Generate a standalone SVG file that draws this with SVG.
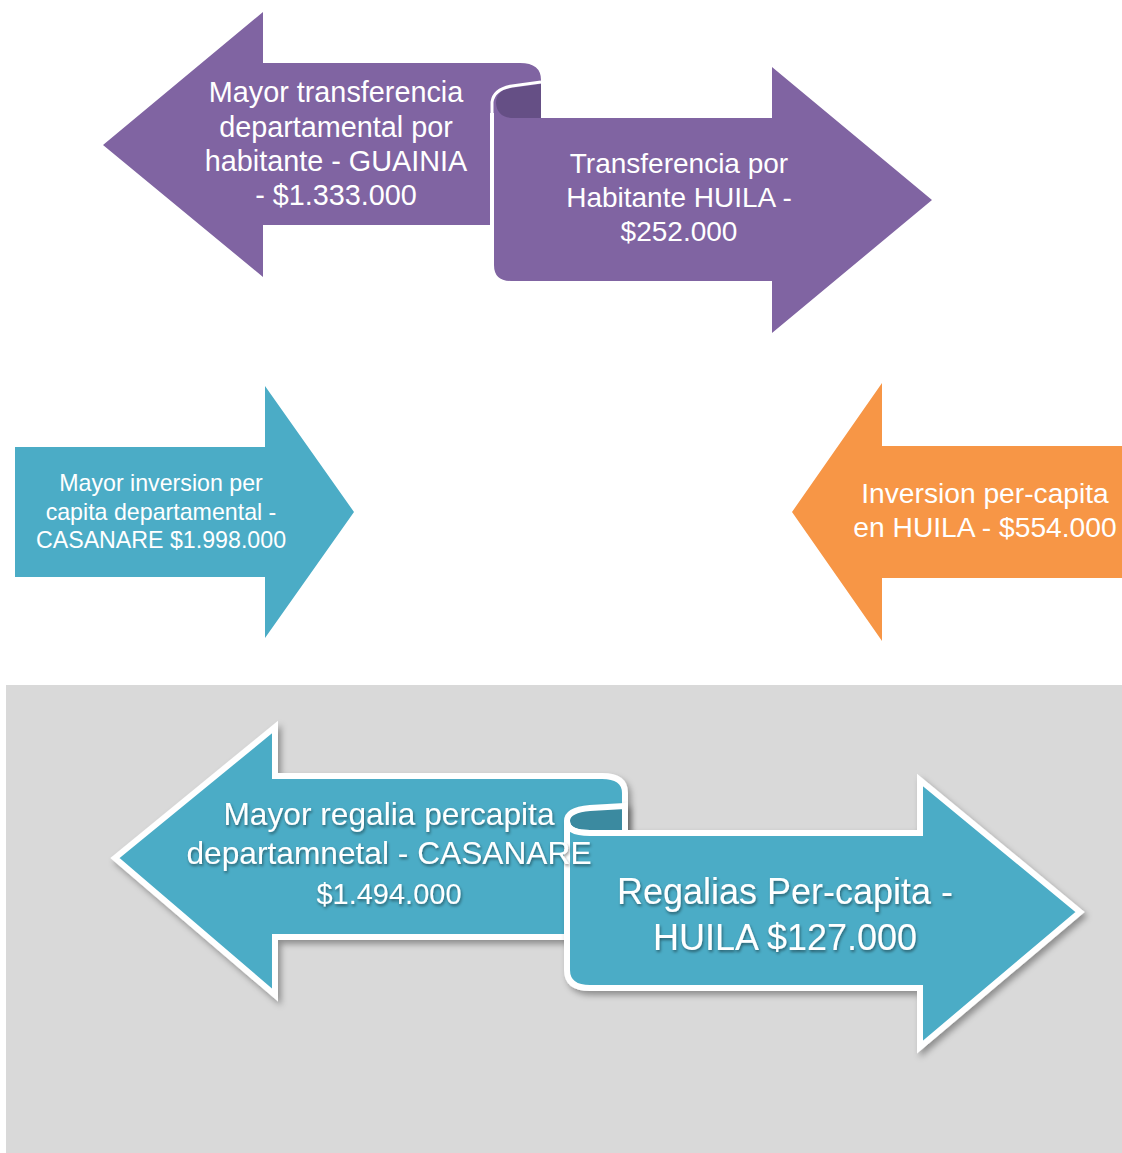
<svg xmlns="http://www.w3.org/2000/svg" width="1122" height="1153" viewBox="0 0 1122 1153">
<style>
.t{font-family:"Liberation Sans","Open Sans",sans-serif;fill:#fff;text-anchor:middle}
.purple{fill:#8064A2}
.pdark{fill:#654F85}
.teal{fill:#4BACC6}
.tdark{fill:#3A8AA0}
.orange{fill:#F79646}
.ws{stroke:#fff;stroke-width:6;stroke-linejoin:miter}
</style>
<defs>
<filter id="sh" x="-10%" y="-10%" width="130%" height="130%">
<feDropShadow dx="3" dy="4" stdDeviation="3" flood-color="#000" flood-opacity="0.35"/>
</filter>
<filter id="tsh" x="-5%" y="-20%" width="110%" height="150%">
<feDropShadow dx="1" dy="2" stdDeviation="1.5" flood-color="#000" flood-opacity="0.45"/>
</filter>
</defs>
<rect x="6" y="685" width="1116" height="468" fill="#D9D9D9"/>

<g id="top-left-arrow">
<path class="purple" d="M103,145 L263,12 L263,63 L520,63 Q541,63 541,80 L541,113 L490,113 L490,225 L263,225 L263,277 Z"/>
</g>
<g id="top-right-arrow">
<path class="purple" d="M494,100 L494,265 Q494,281 511,281 L772,281 L772,333 L932,200 L772,67 L772,118 L541,118 L541,100 Z"/>
<path class="pdark" d="M541,84 L512,88 Q496,90 496,103 Q497,118 514,118 L541,118 Z"/>
<path d="M492,122 L492,102 Q494,89 512,86 L541,82" fill="none" stroke="#fff" stroke-width="3"/>
</g>
<g id="mid-left-arrow">
<path class="teal" d="M15,447 L265,447 L265,386 L354,512 L265,638 L265,577 L15,577 Z"/>
</g>
<g id="mid-right-arrow">
<path class="orange" d="M1122,446 L882,446 L882,383 L792,512 L882,641 L882,578 L1122,578 Z"/>
</g>
<g id="bottom-left-arrow" filter="url(#sh)">
<path class="teal ws" d="M115,858 L275,727 L275,776 L602,776 Q625,776 625,793 L625,937 L275,937 L275,995 Z"/>
</g>
<g id="bottom-right-arrow" filter="url(#sh)">
<path class="tdark ws" d="M625,806 L590,808 Q567,810 567,821 Q567,833 590,833 L625,833 Z"/>
<path class="teal ws" d="M567,821 Q567,833 590,833 L920,833 L920,780 L1080,912 L920,1047 L920,988 L590,988 Q567,988 567,970 Z"/>
</g>

<g id="labels">
<g class="t" font-size="28.8">
<text x="336" y="102">Mayor transferencia</text>
<text x="336" y="137">departamental por</text>
<text x="336" y="171">habitante - GUAINIA</text>
<text x="336" y="205">- $1.333.000</text>
</g>
<g class="t" font-size="28">
<text x="679" y="173">Transferencia por</text>
<text x="679" y="207">Habitante HUILA -</text>
<text x="679" y="241">$252.000</text>
</g>
<g class="t" font-size="23.2">
<text x="161" y="491">Mayor inversion per</text>
<text x="161" y="520">capita departamental -</text>
<text x="161" y="548">CASANARE $1.998.000</text>
</g>
<g class="t" font-size="28.2">
<text x="985" y="503">Inversion per-capita</text>
<text x="985" y="537">en HUILA - $554.000</text>
</g>
<g class="t" font-size="31.7" filter="url(#tsh)">
<text x="389" y="825">Mayor regalia percapita</text>
<text x="389" y="864">departamnetal - CASANARE</text>
<text x="389" y="904" font-size="29">$1.494.000</text>
</g>
<g class="t" font-size="36" filter="url(#tsh)">
<text x="785" y="904">Regalias Per-capita -</text>
<text x="785" y="950">HUILA $127.000</text>
</g>
</g>
</svg>
